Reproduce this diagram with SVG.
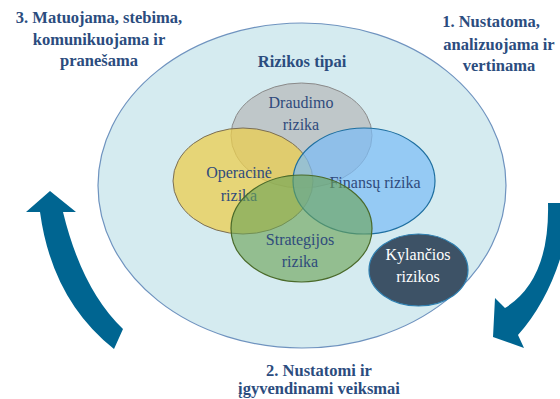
<svg xmlns="http://www.w3.org/2000/svg" width="560" height="399" viewBox="0 0 560 399">
<style>
.head{font-family:"Liberation Serif","Times New Roman",serif;font-weight:bold;font-size:16.5px;fill:#2b4c7e;text-anchor:middle}
.lbl{font-family:"Liberation Serif","Times New Roman",serif;font-size:16px;fill:#2f4b7c;text-anchor:middle}
.arrow{fill:#006591}
</style>
<rect width="560" height="399" fill="#ffffff"/>
<g id="outer">
<ellipse cx="302" cy="185.5" rx="204" ry="162.5" fill="#d5ebf0" stroke="#6f93bf" stroke-width="1.2"/>
<text class="head" x="302" y="67" font-size="15.5">Rizikos tipai</text>
</g>
<g id="draudimo">
<ellipse cx="301.5" cy="135.5" rx="70.5" ry="52.5" fill="#bcc3c4" fill-opacity="0.9" stroke="#8a8a8a" stroke-width="1"/>
<text class="lbl" x="301" y="108">Draudimo</text>
<text class="lbl" x="301" y="130">rizika</text>
</g>
<g id="operacine">
<ellipse cx="243" cy="181" rx="70" ry="53" fill="#ebcd4f" fill-opacity="0.75" stroke="#7a6e55" stroke-width="1"/>
<text class="lbl" x="239" y="178">Operacinė</text>
<text class="lbl" x="239" y="201">rizika</text>
</g>
<g id="finansu">
<ellipse cx="364" cy="181" rx="71" ry="53" fill="#7dbdf5" fill-opacity="0.72" stroke="#1e6fa0" stroke-width="1.2"/>
<text class="lbl" x="375" y="188">Finansų rizika</text>
</g>
<g id="strategijos">
<ellipse cx="301.5" cy="228.5" rx="70.5" ry="53.5" fill="#6aa356" fill-opacity="0.62" stroke="#4a6a2a" stroke-width="1.2"/>
<text class="lbl" x="300" y="245">Strategijos</text>
<text class="lbl" x="300" y="267">rizika</text>
</g>
<g id="kylancios">
<ellipse cx="418.5" cy="270" rx="49.5" ry="36" fill="#3d5266" stroke="#2e7fb0" stroke-width="1.2"/>
<text class="lbl" x="418" y="260" style="fill:#ffffff">Kylančios</text>
<text class="lbl" x="418" y="282" style="fill:#ffffff">rizikos</text>
</g>
<g id="step1">
<text class="head" x="491" y="27">1. Nustatoma,</text>
<text class="head" x="499" y="50">analizuojama ir</text>
<text class="head" x="499" y="71">vertinama</text>
</g>
<g id="step2">
<text class="head" x="319" y="376">2. Nustatomi ir</text>
<text class="head" x="319" y="394">įgyvendinami veiksmai</text>
</g>
<g id="step3">
<text class="head" x="99" y="23">3. Matuojama, stebima,</text>
<text class="head" x="99" y="45">komunikuojama ir</text>
<text class="head" x="99" y="66">pranešama</text>
</g>
<g id="connectors">
<path class="arrow" d="M50,191 L76,212 L63,212 Q82,290 123,329 L114,349 Q52,300 40,212 L26,212 Z"/>
<path class="arrow" d="M548,203 L572,203 Q562,285 518,335 L524,348 L493,337 L495,298 L505,308 Q550,280 548,203 Z"/>
</g>
</svg>
